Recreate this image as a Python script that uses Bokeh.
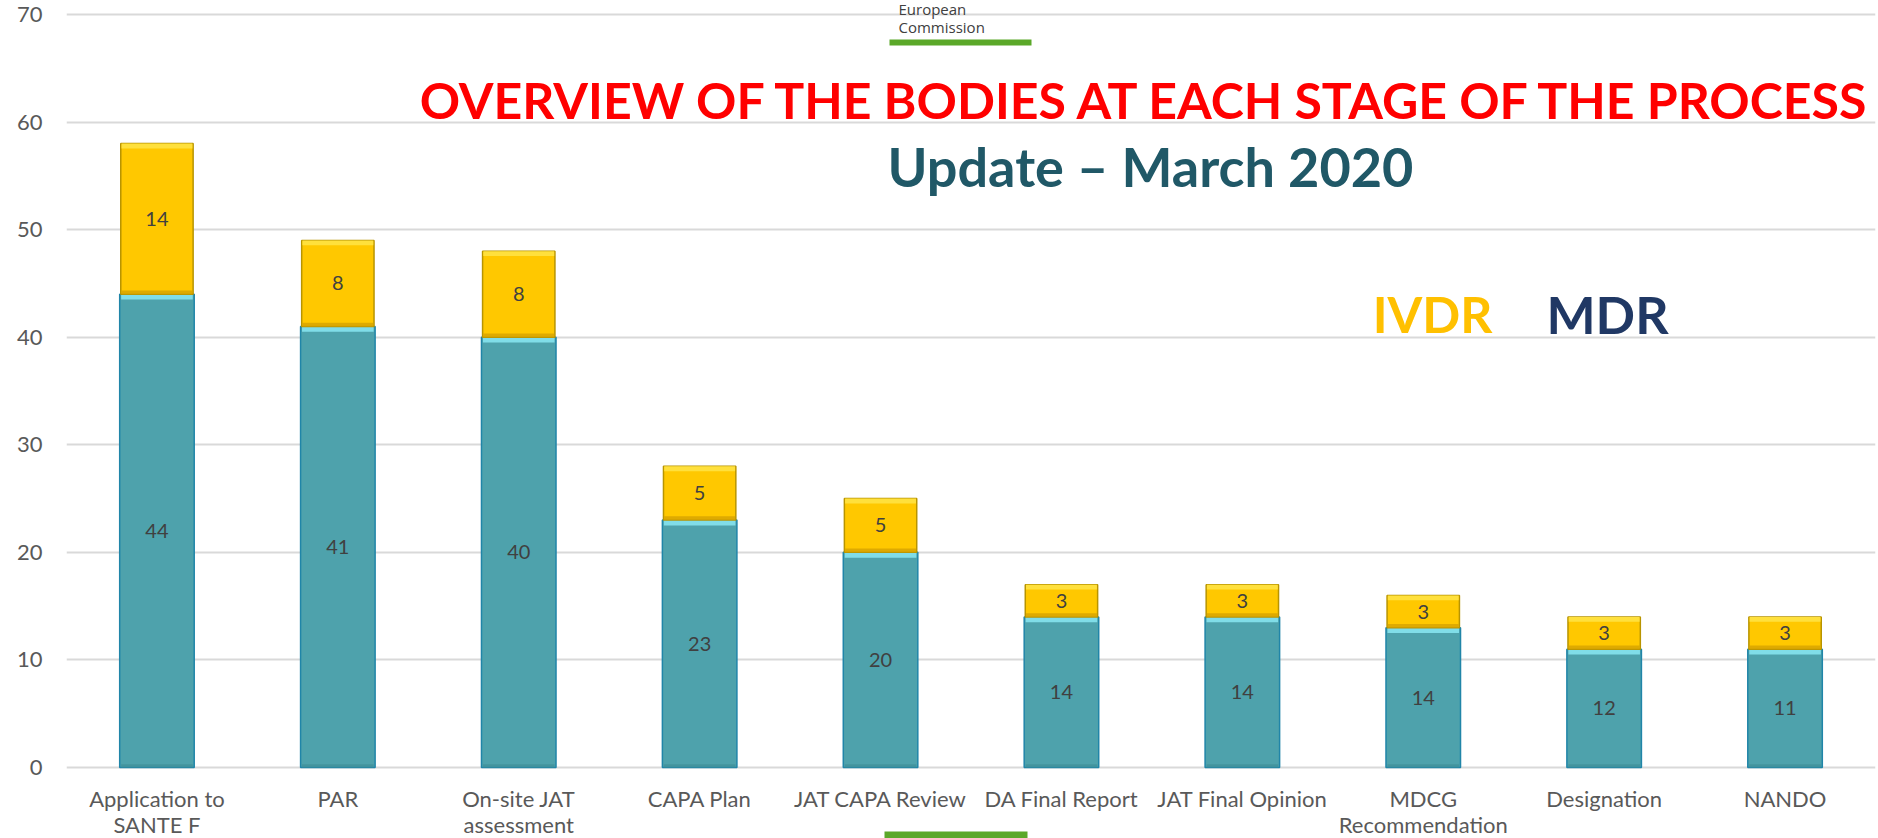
from bokeh.plotting import figure
from bokeh.models import ColumnDataSource, Label, BoxAnnotation, Range1d, FactorRange
from bokeh.core.properties import value
from bokeh.embed import file_html
from bokeh.resources import INLINE

# ---- data ----
categories = ["Application to\nSANTE F", "PAR", "On-site JAT\nassessment", "CAPA Plan",
              "JAT CAPA Review", "DA Final Report", "JAT Final Opinion",
              "MDCG\nRecommendation", "Designation", "NANDO"]
mdr = [44, 41, 40, 23, 20, 14, 14, 13, 11, 11]
mdr_labels = ["44", "41", "40", "23", "20", "14", "14", "14", "12", "11"]
ivdr = [14, 8, 8, 5, 5, 3, 3, 3, 3, 3]
ivdr_labels = ["14", "8", "8", "5", "5", "3", "3", "3", "3", "3"]
y_ticks = [0, 10, 20, 30, 40, 50, 60, 70]

FONT = "Lato"
W, H = 1878, 838
TOP_PX, ZERO_PX = 14, 767          # pixel rows of 70 and 0
UNIT = (ZERO_PX - TOP_PX) / 70.0
Y_END = 70 + TOP_PX / UNIT
Y_START = -(H - ZERO_PX) / UNIT
FRAME_LEFT, FRAME_RIGHT = 66, 1875
UNIT_X = (FRAME_RIGHT - FRAME_LEFT) / len(categories)

def px_x(fx):
    return (fx - FRAME_LEFT) / UNIT_X

def px_y(fy):
    return (ZERO_PX - fy) / UNIT

tot = [m + i for m, i in zip(mdr, ivdr)]
src = ColumnDataSource(dict(
    cat=categories, mdr=mdr, ivdr_top=tot,
    mdr_mid=[m / 2 for m in mdr],
    ivdr_mid=[m + i / 2 for m, i in zip(mdr, ivdr)],
    mdr_hl=[m - 0.5 for m in mdr],
    ivdr_hl=[t - 0.45 for t in tot],
    mdr_base=[0.3 for _ in mdr],
    ivdr_base=[m + 0.35 for m in mdr],
    mdr_lbl=mdr_labels, ivdr_lbl=ivdr_labels,
))

p = figure(width=W, height=H, x_range=FactorRange(*categories),
           y_range=Range1d(Y_START, Y_END), output_backend="svg",
           toolbar_location=None, min_border_left=FRAME_LEFT, min_border_right=W - FRAME_RIGHT,
           min_border_top=0, min_border_bottom=0)
p.outline_line_color = None
p.background_fill_color = "white"
p.border_fill_color = "white"

BW = 0.40
# MDR bars
p.vbar(x="cat", top="mdr", bottom=0, width=BW + 0.012, source=src,
       fill_color="#4EA2AC", line_color="#2085A8", line_width=1.5)
p.vbar(x="cat", top="mdr", bottom="mdr_hl", width=BW - 0.004, source=src,
       fill_color="#80DDE8", line_color=None)
p.vbar(x="cat", top="mdr_base", bottom=0, width=BW - 0.004, source=src,
       fill_color="#3F8F99", line_color=None, fill_alpha=0.7)
# IVDR bars
p.vbar(x="cat", top="ivdr_top", bottom="mdr", width=BW, source=src,
       fill_color="#FFC800", line_color="#B89400", line_width=1.5)
p.vbar(x="cat", top="ivdr_top", bottom="ivdr_hl", width=BW - 0.008, source=src,
       fill_color="#FFE03C", line_color=None)
p.vbar(x="cat", top="ivdr_base", bottom="mdr", width=BW - 0.008, source=src,
       fill_color="#D6A200", line_color=None, fill_alpha=0.8)

p.text(x="cat", y="mdr_mid", text="mdr_lbl", source=src, text_font=value(FONT),
       text_font_size="20px", text_color="#404040", text_align="center",
       text_baseline="middle")
p.text(x="cat", y="ivdr_mid", text="ivdr_lbl", source=src, text_font=value(FONT),
       text_font_size="20px", text_color="#404040", text_align="center",
       text_baseline="middle")

# axes
p.yaxis.ticker = y_ticks
p.yaxis.axis_line_color = None
p.yaxis.major_tick_line_color = None
p.yaxis.minor_tick_line_color = None
p.yaxis.major_label_text_font = FONT
p.yaxis.major_label_text_font_size = "22px"
p.yaxis.major_label_text_color = "#595959"
p.yaxis.major_label_standoff = 18
p.xaxis.visible = False

p.xgrid.grid_line_color = None
p.ygrid.grid_line_color = "#D9D9D9"
p.ygrid.grid_line_width = 2
p.ygrid.ticker = y_ticks

# category labels (wrapped names, one text per line)
lx, ly, lt = [], [], []
for name in categories:
    for j, line in enumerate(name.split("\n")):
        lx.append(name)
        ly.append(px_y(798 + 26 * j))
        lt.append(line)
p.text(x=lx, y=ly, text=lt, text_font=value(FONT), text_font_size="22px",
       text_color="#595959", text_align="center", text_baseline="middle")

# annotations
p.add_layout(Label(x=px_x(1147), y=px_y(99), text="OVERVIEW OF THE BODIES AT EACH STAGE OF THE PROCESS",
                   text_font=FONT, text_font_style="bold", text_font_size="50px",
                   text_color="#FF0000", text_align="center", text_baseline="middle"))
p.add_layout(Label(x=px_x(1150), y=px_y(166), text="Update \u2013 March 2020",
                   text_font=FONT, text_font_style="bold", text_font_size="54px",
                   text_color="#205867", text_align="center", text_baseline="middle"))
p.add_layout(Label(x=px_x(1432), y=px_y(313), text="IVDR",
                   text_font=FONT, text_font_style="bold", text_font_size="50px",
                   text_color="#FFC000", text_align="center", text_baseline="middle"))
p.add_layout(Label(x=px_x(1607), y=px_y(313), text="MDR",
                   text_font=FONT, text_font_style="bold", text_font_size="52px",
                   text_color="#203864", text_align="center", text_baseline="middle"))
p.add_layout(Label(x=px_x(898), y=px_y(8), text="European",
                   text_font="Open Sans", text_font_size="15px",
                   text_color="#404040", text_align="left", text_baseline="middle"))
p.add_layout(Label(x=px_x(898), y=px_y(26), text="Commission",
                   text_font="Open Sans", text_font_size="15px",
                   text_color="#404040", text_align="left", text_baseline="middle"))
p.add_layout(BoxAnnotation(left=px_x(889), right=px_x(1031), top=px_y(39), bottom=px_y(45),
                           fill_color="#5BA829", fill_alpha=1, line_color=None))
p.add_layout(BoxAnnotation(left=px_x(884), right=px_x(1027), top=px_y(831), bottom=px_y(838),
                           fill_color="#5BA829", fill_alpha=1, line_color=None))

open("out.html", "w").write(file_html(p, INLINE))
